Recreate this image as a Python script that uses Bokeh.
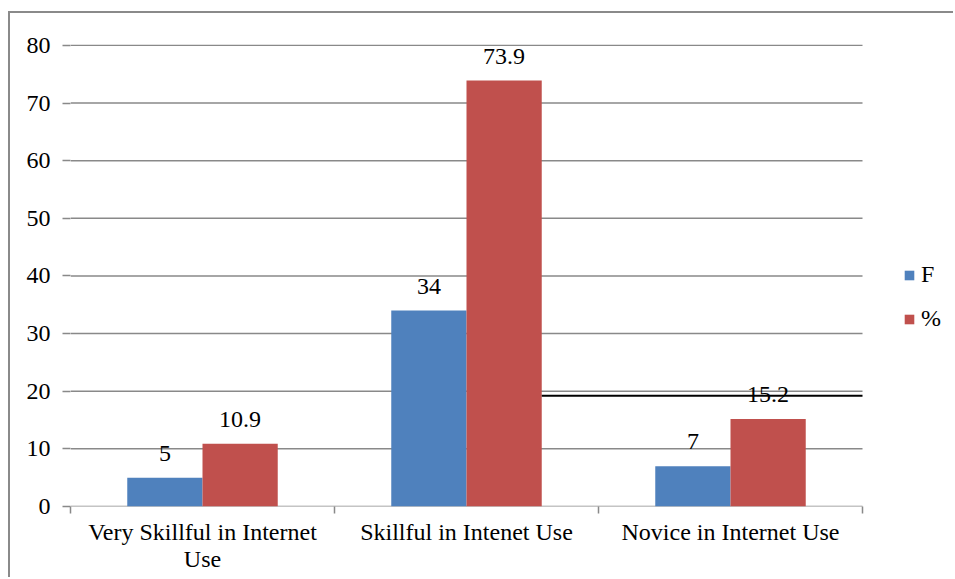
from bokeh.plotting import figure
from bokeh.models import (Range1d, FixedTicker, Legend, LegendItem, LabelSet,
                          ColumnDataSource)
from bokeh.core.properties import value
from bokeh.embed import file_html
from bokeh.resources import INLINE

# Internet skill levels: frequency (F) and percentage (%)
categories = ["Very Skillful in Internet\nUse", "Skillful in Intenet Use", "Novice in Internet Use"]
freq = [5, 34, 7]
percent = [10.9, 73.9, 15.2]
y_ticks = [0, 10, 20, 30, 40, 50, 60, 70, 80]
rule_value = 19.2  # horizontal rule across the right part of the plot

FONT = "Liberation Serif"
GRID = "#898989"
BLUE = "#4F81BD"
RED = "#C0504D"
BAR_W = 0.285

# layout in pixels: plotting frame spans the full width to the right, the
# category area occupies CAT_PX of it and the legend sits in the remainder
WIDTH, HEIGHT = 945, 566
LEFT, TOP, BOTTOM = 60, 31, 73
CAT_PX = 792
n = len(categories)
x_end = n * (WIDTH - LEFT) / CAT_PX

centers = [i + 0.5 for i in range(n)]
src_f = ColumnDataSource(dict(x=[c - BAR_W / 2 for c in centers], top=freq,
                              lab=[f"{v:g}" for v in freq]))
src_p = ColumnDataSource(dict(x=[c + BAR_W / 2 for c in centers], top=percent,
                              lab=[f"{v:g}" for v in percent]))

p = figure(width=WIDTH, height=HEIGHT, x_range=Range1d(0, x_end),
           y_range=Range1d(0, 80.15), output_backend="svg", toolbar_location=None,
           min_border_left=LEFT, min_border_right=0, min_border_top=TOP,
           min_border_bottom=BOTTOM)
p.margin = (11, 0, 0, 8)
p.styles = {"border-left": "2px solid #8a8a8a", "border-top": "2px solid #8a8a8a"}
p.outline_line_color = None
p.background_fill_color = "white"
p.border_fill_color = "white"
p.xgrid.visible = False
p.ygrid.visible = False

# horizontal gridlines limited to the category area (the 0 line is the x axis line)
p.segment(x0=[0] * len(y_ticks), y0=y_ticks, x1=[n] * len(y_ticks), y1=y_ticks,
          line_color=GRID, line_width=1.5)

r_f = p.vbar(x="x", top="top", width=BAR_W, source=src_f, fill_color=BLUE, line_color=None)
r_p = p.vbar(x="x", top="top", width=BAR_W, source=src_p, fill_color=RED, line_color=None)

p.segment(x0=[centers[1] + BAR_W], y0=[rule_value], x1=[n], y1=[rule_value],
          line_color="black", line_width=2)

for src in (src_f, src_p):
    p.add_layout(LabelSet(x="x", y="top", text="lab", source=src, text_align="center",
                          text_baseline="alphabetic", y_offset=17,
                          text_font=value(FONT), text_font_size=value("24px"),
                          text_color="black"))

# y axis: labels and outward ticks, no axis line
p.yaxis.ticker = FixedTicker(ticks=y_ticks)
p.yaxis.axis_line_color = None
p.yaxis.major_tick_in = 0
p.yaxis.major_tick_out = 8
p.yaxis.major_tick_line_color = GRID
p.yaxis.major_tick_line_width = 1.5
p.yaxis.minor_tick_line_color = None
p.yaxis.major_label_text_font = FONT
p.yaxis.major_label_text_font_size = "24px"
p.yaxis.major_label_text_color = "black"
p.yaxis.major_label_standoff = 12

# x axis: category names centred, tick marks between categories
p.xaxis.ticker = FixedTicker(ticks=centers, minor_ticks=list(range(n + 1)))
p.xaxis.major_label_overrides = {c: name for c, name in zip(centers, categories)}
p.xaxis.axis_line_color = None
p.xaxis.major_tick_line_color = None
p.xaxis.major_tick_out = 0
p.xaxis.major_tick_in = 0
p.xaxis.minor_tick_in = 0
p.xaxis.minor_tick_out = 7
p.xaxis.minor_tick_line_color = GRID
p.xaxis.minor_tick_line_width = 1.5
p.xaxis.major_label_text_font = FONT
p.xaxis.major_label_text_font_size = "24px"
p.xaxis.major_label_text_color = "black"
p.xaxis.major_label_text_line_height = 1.05
p.xaxis.major_label_standoff = 5

legend = Legend(items=[LegendItem(label="F", renderers=[r_f]),
                       LegendItem(label="%", renderers=[r_p])],
                location=(833, 174), orientation="vertical",
                glyph_width=12, glyph_height=12, label_height=26, spacing=17,
                label_standoff=6, padding=0, margin=0,
                border_line_color=None, background_fill_alpha=0,
                label_text_font=FONT, label_text_font_size="24px",
                label_text_color="black")
p.add_layout(legend, "center")

open("out.html", "w").write(file_html(p, INLINE))
